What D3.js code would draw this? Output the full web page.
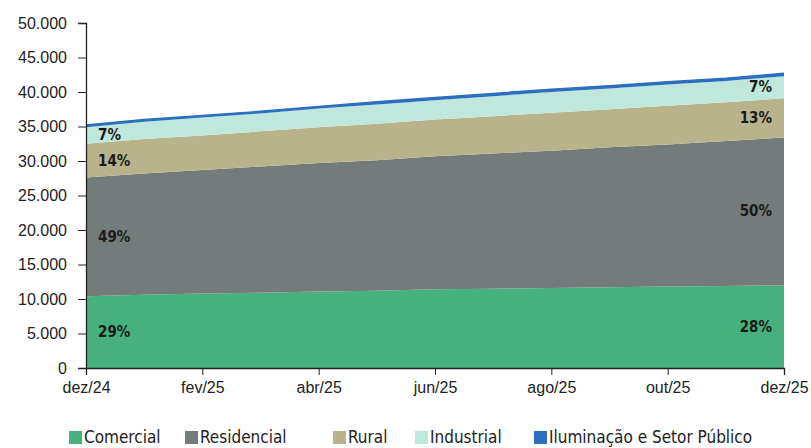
<!DOCTYPE html>
<html>
<head>
<meta charset="utf-8">
<script src="https://cdn.jsdelivr.net/npm/d3@7.9.0/dist/d3.min.js"></script>
<style>
  body { margin: 0; background: #fff; }
  svg { display: block; font-family: "DejaVu Sans Condensed", "Liberation Sans Narrow", sans-serif; }
  .tick text { fill: #222; font-size: 16px; }
  .pct { font-weight: bold; font-size: 15px; fill: #1a1a1a; }
  .legend text { font-size: 17px; fill: #222; }
</style>
</head>
<body>
<svg width="811" height="448"></svg>
<script>
const months = ["dez/24", "jan/25", "fev/25", "mar/25", "abr/25", "mai/25", "jun/25",
  "jul/25", "ago/25", "set/25", "out/25", "nov/25", "dez/25"];
const tickMonths = ["dez/24", "fev/25", "abr/25", "jun/25", "ago/25", "out/25", "dez/25"];
const yTicks = [0, 5000, 10000, 15000, 20000, 25000, 30000, 35000, 40000, 45000, 50000];

const keys = ["Comercial", "Residencial", "Rural", "Industrial", "Iluminação e Setor Público"];
const comercial   = [10400, 10600, 10800, 10900, 11100, 11200, 11400, 11500, 11600, 11700, 11800, 11900, 12000];
const residencial = [17200, 17600, 17900, 18300, 18600, 18900, 19300, 19600, 19900, 20300, 20600, 21000, 21400];
const rural       = [4900, 5000, 5000, 5100, 5200, 5300, 5300, 5400, 5500, 5500, 5600, 5600, 5700];
const industrial  = [2400, 2500, 2600, 2600, 2700, 2800, 2800, 2900, 3000, 3000, 3100, 3100, 3200];
const iluminacao  = [300, 300, 300, 300, 300, 400, 400, 400, 400, 400, 400, 400, 400];
const colors = ["#47b07f", "#747c7b", "#b8b38b", "#c0e7dc", "#2b6fbe"];

// share labels at first and last month
const pctStart = ["29%", "49%", "14%", "7%"];
const pctEnd = ["28%", "50%", "13%", "7%"];

const series = [comercial, residencial, rural, industrial, iluminacao];
const rows = months.map((m, i) => {
  const r = { month: m };
  keys.forEach((k, j) => r[k] = series[j][i]);
  return r;
});

const svg = d3.select("svg");
const x = d3.scalePoint().domain(months).range([86, 784]);
const y = d3.scaleLinear().domain([0, 50000]).range([368, 23]);

const locale = d3.formatLocale({ decimal: ",", thousands: ".", grouping: [3], currency: ["R$", ""] });
const fmt = locale.format(",");

const stack = d3.stack().keys(keys);
const layers = stack(rows);

const area = d3.area()
  .x(d => x(d.data.month))
  .y0(d => y(d[0]))
  .y1(d => y(d[1]));

svg.append("g").selectAll("path")
  .data(layers)
  .join("path")
  .attr("d", area)
  .attr("fill", (d, i) => colors[i]);

// top line for iluminação
svg.append("path")
  .datum(layers[4])
  .attr("d", d3.line().x(d => x(d.data.month)).y(d => y(d[1])))
  .attr("fill", "none")
  .attr("stroke", "#2b6fbe")
  .attr("stroke-width", 1.5);

// axes
const yAxis = svg.append("g")
  .attr("transform", "translate(86,0)")
  .call(d3.axisLeft(y).tickValues(yTicks).tickFormat(fmt).tickSize(8).tickPadding(11));
yAxis.select(".domain").attr("stroke", "#222").attr("stroke-width", 1.3);
yAxis.selectAll(".tick line").attr("stroke", "#222");

const xAxis = svg.append("g")
  .attr("transform", "translate(0,368)")
  .call(d3.axisBottom(x).tickValues(tickMonths).tickSize(7).tickPadding(4));
xAxis.select(".domain").attr("stroke", "#222").attr("stroke-width", 1.3);
xAxis.selectAll(".tick line").attr("stroke", "#222");
xAxis.selectAll(".tick text").attr("dy", "0.85em");

// percentage labels
const first = months[0], last = months[months.length - 1];
layers.slice(0, 4).forEach((layer, i) => {
  const a = layer[0], b = layer[layer.length - 1];
  svg.append("text").attr("class", "pct")
    .attr("x", x(first) + 12)
    .attr("y", y((a[0] + a[1]) / 2) + 5)
    .text(pctStart[i]);
  svg.append("text").attr("class", "pct")
    .attr("x", x(last) - 12)
    .attr("y", y((b[0] + b[1]) / 2) + 5)
    .attr("text-anchor", "end")
    .text(pctEnd[i]);
});

// legend
const legendX = [69, 185, 333, 415, 534];
const legend = svg.append("g").attr("class", "legend");
keys.forEach((k, i) => {
  const g = legend.append("g").attr("transform", `translate(${legendX[i]},437)`);
  g.append("rect").attr("x", 0).attr("y", -6).attr("width", 13).attr("height", 13).attr("fill", colors[i]);
  g.append("text").attr("x", 15).attr("y", 6).text(k);
});
</script>
</body>
</html>
